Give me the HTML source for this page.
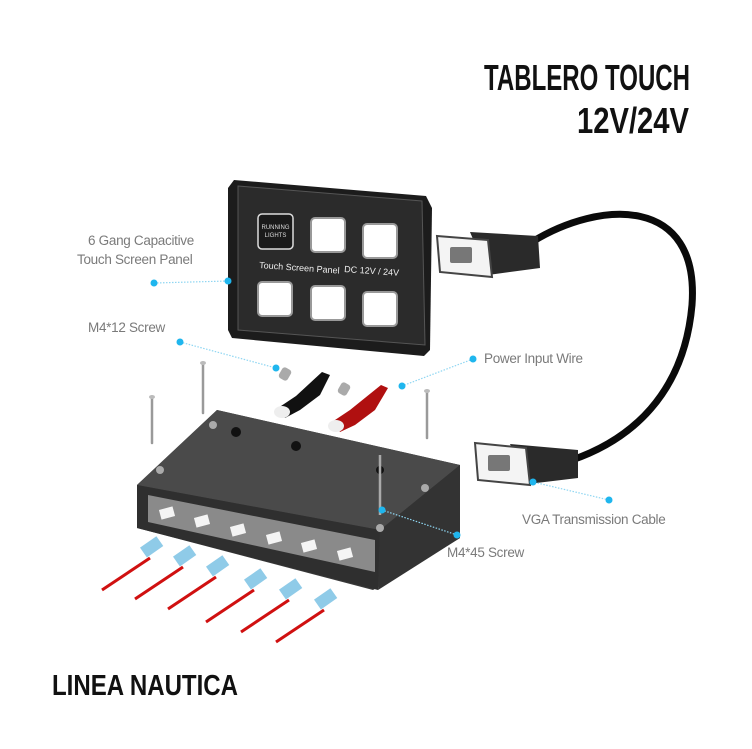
<!DOCTYPE html>
<html><head><meta charset="utf-8"><style>
html,body{margin:0;padding:0;background:#fff}
svg{display:block}
.lbl{font-family:"Liberation Sans",sans-serif;font-size:13.5px;fill:#7a7a7a;letter-spacing:-0.3px}
.ttl{font-family:"Liberation Sans Narrow","Liberation Sans",sans-serif;font-weight:bold;fill:#111}
.dot{fill:#1fb6ee}
.dl{stroke:#8fd6f2;stroke-width:1.2;stroke-dasharray:1.5 1.5;fill:none}
</style></head><body>
<svg width="752" height="749" viewBox="0 0 752 749" xmlns="http://www.w3.org/2000/svg">
<text class="ttl" x="690" y="90" font-size="36" text-anchor="end" textLength="206" lengthAdjust="spacingAndGlyphs">TABLERO TOUCH</text>
<text class="ttl" x="689" y="133" font-size="36" text-anchor="end" textLength="112" lengthAdjust="spacingAndGlyphs">12V/24V</text>
<text class="ttl" x="52" y="695" font-size="29" textLength="186" lengthAdjust="spacingAndGlyphs">LINEA NAUTICA</text>

<path d="M532,242 C600,200 700,195 692,305 C684,395 630,440 572,460" stroke="#0a0a0a" stroke-width="7" fill="none" stroke-linecap="round"/>
<polygon points="470,232 538,236 540,268 488,275" fill="#2a2a2a"/>
<polygon points="437,236 488,240 492,277 440,272" fill="#f4f4f4" stroke="#444" stroke-width="2"/>
<rect x="450" y="247" width="22" height="16" fill="#777" rx="2"/>
<polygon points="510,444 578,450 578,478 528,484" fill="#2a2a2a"/>
<polygon points="475,443 526,448 530,485 478,480" fill="#f4f4f4" stroke="#444" stroke-width="2"/>
<rect x="488" y="455" width="22" height="16" fill="#777" rx="2"/>

<polygon points="234,180 426,196 432,208 430,350 424,356 232,338 228,330 228,188" fill="#1c1c1c"/>
<polygon points="238,186 422,201 425,345 238,330" fill="#2b2b2b" stroke="#555" stroke-width="1"/>
<rect x="258" y="214" width="35" height="35" rx="4" fill="#1a1a1a" stroke="#ddd" stroke-width="1.5"/>
<text x="275.5" y="229" font-family="Liberation Sans,sans-serif" font-size="6" fill="#ddd" text-anchor="middle">RUNNING</text>
<text x="275.5" y="237" font-family="Liberation Sans,sans-serif" font-size="6" fill="#ddd" text-anchor="middle">LIGHTS</text>
<rect x="311" y="218" width="34" height="34" rx="4" fill="#fff" stroke="#999" stroke-width="2"/>
<rect x="363" y="224" width="34" height="34" rx="4" fill="#fff" stroke="#999" stroke-width="2"/>
<rect x="258" y="282" width="34" height="34" rx="4" fill="#fff" stroke="#999" stroke-width="2"/>
<rect x="311" y="286" width="34" height="34" rx="4" fill="#fff" stroke="#999" stroke-width="2"/>
<rect x="363" y="292" width="34" height="34" rx="4" fill="#fff" stroke="#999" stroke-width="2"/>
<text x="259" y="268" font-family="Liberation Sans,sans-serif" font-size="9" fill="#eee" transform="rotate(4 259 268)">Touch Screen Panel</text>
<text x="344" y="272" font-family="Liberation Sans,sans-serif" font-size="9" fill="#eee" transform="rotate(4 344 272)">DC 12V / 24V</text>

<g stroke="#9a9a9a" stroke-width="2.5" stroke-linecap="round">
<line x1="152" y1="398" x2="152" y2="443"/>
<line x1="203" y1="364" x2="203" y2="413"/>
<line x1="427" y1="392" x2="427" y2="438"/>
</g>
<g fill="#bbb"><ellipse cx="152" cy="397" rx="3" ry="2"/><ellipse cx="203" cy="363" rx="3" ry="2"/><ellipse cx="427" cy="391" rx="3" ry="2"/></g>
<rect x="280" y="368" width="10" height="12" rx="3" fill="#aaa" transform="rotate(30 285 374)"/>
<rect x="339" y="383" width="10" height="12" rx="3" fill="#aaa" transform="rotate(30 344 389)"/>
<path d="M330,375 L320,395 L300,410 L285,418 L278,408 L296,396 L322,372 Z" fill="#111"/>
<ellipse cx="282" cy="412" rx="8" ry="6" fill="#eee"/>
<path d="M388,388 L375,410 L355,425 L340,432 L332,422 L350,410 L381,385 Z" fill="#b01010"/>
<ellipse cx="336" cy="426" rx="8" ry="6" fill="#eee"/>

<polygon points="217,410 460,465 460,538 373,590 137,528 137,485" fill="#3a3a3a"/>
<polygon points="217,410 460,465 380,530 137,485" fill="#4a4a4a"/>
<polygon points="137,485 380,530 378,590 137,528" fill="#2f2f2f"/>
<polygon points="148,495 375,540 375,572 148,522" fill="#8a8a8a"/>
<polygon points="380,530 460,465 460,538 378,590" fill="#333"/>
<g fill="#f4f4f4">
<rect x="160" y="508" width="14" height="10" transform="rotate(-15 167 513)"/>
<rect x="195" y="516" width="14" height="10" transform="rotate(-15 202 521)"/>
<rect x="231" y="525" width="14" height="10" transform="rotate(-15 238 530)"/>
<rect x="267" y="533" width="14" height="10" transform="rotate(-15 274 538)"/>
<rect x="302" y="541" width="14" height="10" transform="rotate(-15 309 546)"/>
<rect x="338" y="549" width="14" height="10" transform="rotate(-15 345 554)"/>
</g>
<g fill="#aaa"><circle cx="213" cy="425" r="4"/><circle cx="160" cy="470" r="4"/><circle cx="425" cy="488" r="4"/><circle cx="380" cy="528" r="4"/></g>
<g fill="#111"><circle cx="236" cy="432" r="5"/><circle cx="296" cy="446" r="5"/><circle cx="380" cy="470" r="4"/></g>
<line x1="380" y1="455" x2="380" y2="515" stroke="#aaa" stroke-width="2.5"/>

<g>
<g transform="translate(150,548)"><line x1="0" y1="10" x2="-48" y2="42" stroke="#d01010" stroke-width="3"/><rect x="-8" y="-6" width="20" height="12" fill="#8fcbe8" transform="rotate(-35)"/></g>
<g transform="translate(183,557)"><line x1="0" y1="10" x2="-48" y2="42" stroke="#d01010" stroke-width="3"/><rect x="-8" y="-6" width="20" height="12" fill="#8fcbe8" transform="rotate(-35)"/></g>
<g transform="translate(216,567)"><line x1="0" y1="10" x2="-48" y2="42" stroke="#d01010" stroke-width="3"/><rect x="-8" y="-6" width="20" height="12" fill="#8fcbe8" transform="rotate(-35)"/></g>
<g transform="translate(254,580)"><line x1="0" y1="10" x2="-48" y2="42" stroke="#d01010" stroke-width="3"/><rect x="-8" y="-6" width="20" height="12" fill="#8fcbe8" transform="rotate(-35)"/></g>
<g transform="translate(289,590)"><line x1="0" y1="10" x2="-48" y2="42" stroke="#d01010" stroke-width="3"/><rect x="-8" y="-6" width="20" height="12" fill="#8fcbe8" transform="rotate(-35)"/></g>
<g transform="translate(324,600)"><line x1="0" y1="10" x2="-48" y2="42" stroke="#d01010" stroke-width="3"/><rect x="-8" y="-6" width="20" height="12" fill="#8fcbe8" transform="rotate(-35)"/></g>
</g>

<text class="lbl" x="88" y="245">6 Gang Capacitive</text>
<text class="lbl" x="77" y="264">Touch Screen Panel</text>
<path class="dl" d="M154,283 L228,281"/><circle class="dot" cx="154" cy="283" r="3.5"/><circle class="dot" cx="228" cy="281" r="3.5"/>
<text class="lbl" x="88" y="332">M4*12 Screw</text>
<path class="dl" d="M180,342 L276,368"/><circle class="dot" cx="180" cy="342" r="3.5"/><circle class="dot" cx="276" cy="368" r="3.5"/>
<text class="lbl" x="484" y="363">Power Input Wire</text>
<path class="dl" d="M473,359 L402,386"/><circle class="dot" cx="473" cy="359" r="3.5"/><circle class="dot" cx="402" cy="386" r="3.5"/>
<text class="lbl" x="522" y="524">VGA Transmission Cable</text>
<path class="dl" d="M609,500 L533,482"/><circle class="dot" cx="609" cy="500" r="3.5"/><circle class="dot" cx="533" cy="482" r="3.5"/>
<text class="lbl" x="447" y="557">M4*45 Screw</text>
<path class="dl" d="M457,535 L382,510"/><circle class="dot" cx="457" cy="535" r="3.5"/><circle class="dot" cx="382" cy="510" r="3.5"/>
</svg>
</body></html>
